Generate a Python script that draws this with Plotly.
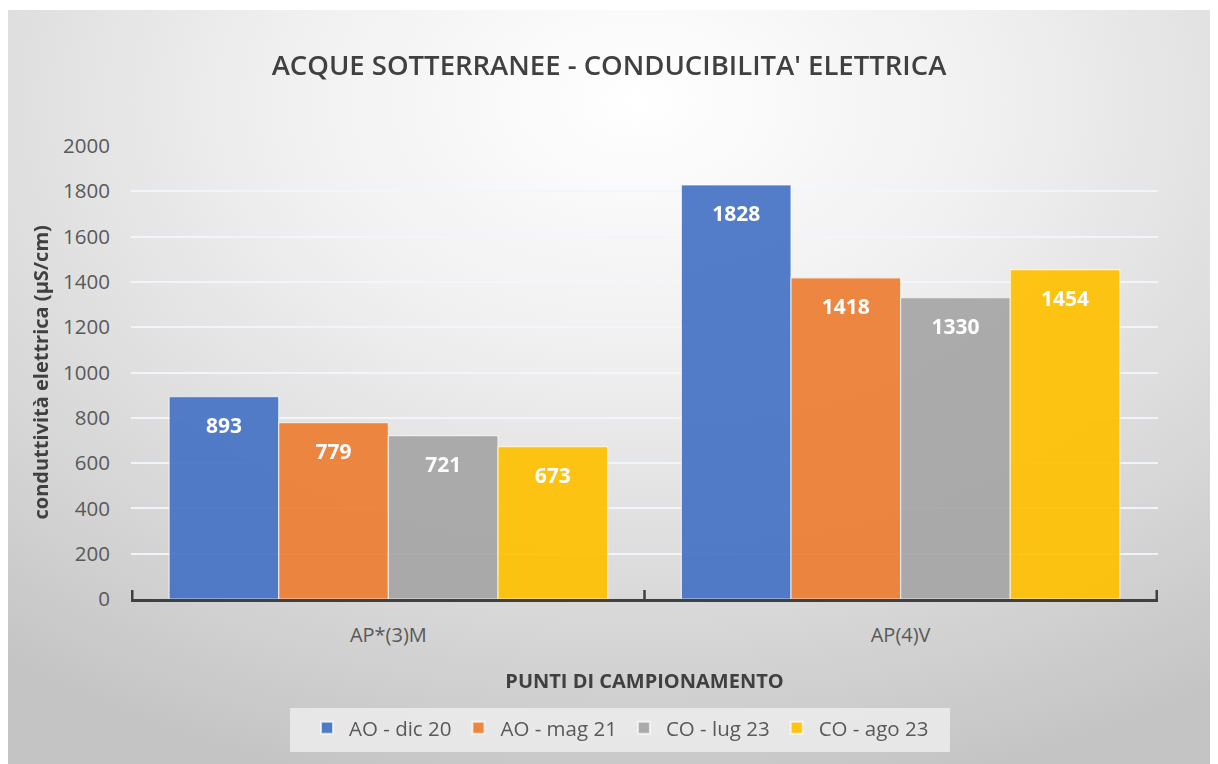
import plotly.graph_objects as go
import base64

categories = ["AP*(3)M", "AP(4)V"]
series_names = ["AO - dic 20", "AO - mag 21", "CO - lug 23", "CO - ago 23"]
values_dic20 = [893, 1828]
values_mag21 = [779, 1418]
values_lug23 = [721, 1330]
values_ago23 = [673, 1454]
y_ticks = [0, 200, 400, 600, 800, 1000, 1200, 1400, 1600, 1800, 2000]

series_values = [values_dic20, values_mag21, values_lug23, values_ago23]
colors = ["#4472C4", "#ED7D31", "#A5A5A5", "#FFC000"]

W, H = 1218, 764
OFF = 8  # page body margin
ML, MR, MT, MB = 123, 68, 138, 173
PW, PH = W - ML - MR, H - MT - MB


def px_x(p_page):
    return (p_page - OFF - ML) / PW


def px_y(p_page):
    return (H - MB - (p_page - OFF)) / PH


label_prefix = "<span style='font-size:6px;color:rgba(0,0,0,0)'>.</span><br>"

fig = go.Figure()
for name, vals, col in zip(series_names, series_values, colors):
    fig.add_trace(go.Bar(
        x=categories, y=vals, name=name,
        marker=dict(color=col, line=dict(color="rgba(255,255,255,0.7)", width=1.2)),
        opacity=0.92,
        text=[label_prefix + str(v) for v in vals],
        textposition="inside", insidetextanchor="end",
        textfont=dict(family="Open Sans", size=21, color="white", weight="bold"),
        textangle=0,
        cliponaxis=False,
    ))

svg = '''<svg xmlns="http://www.w3.org/2000/svg" width="1202" height="750" viewBox="0 0 1202 750" preserveAspectRatio="none">
<defs><radialGradient id="g" cx="0.52" cy="0.12" r="0.85" gradientTransform="translate(0.52,0.12) scale(1,1.1) translate(-0.52,-0.12)">
<stop offset="0" stop-color="#ffffff"/><stop offset="0.35" stop-color="#f0f0f0"/><stop offset="0.75" stop-color="#d6d6d6"/><stop offset="1" stop-color="#c4c4c4"/></radialGradient></defs>
<rect width="1202" height="750" fill="url(#g)"/></svg>'''
src = "data:image/svg+xml;base64," + base64.b64encode(svg.encode()).decode()

fig.add_layout_image(dict(
    source=src, xref="paper", yref="paper",
    x=px_x(8), y=px_y(10), sizex=1210 / PW, sizey=760 / PH,
    sizing="stretch", xanchor="left", yanchor="top", layer="below",
))

# legend background box
fig.add_shape(type="rect", xref="paper", yref="paper",
              x0=px_x(290), x1=px_x(950), y0=px_y(752), y1=px_y(708),
              fillcolor="rgba(236,236,236,0.85)", line=dict(width=0), layer="below")

# tick marks crossing the category axis at category boundaries
for i in range(len(categories) + 1):
    fig.add_shape(type="line", xref="x", yref="y", x0=i - 0.5, x1=i - 0.5,
                  ysizemode="pixel", yanchor=0, y0=-9, y1=9,
                  line=dict(color="#404040", width=2.5))

# y-axis title
fig.add_annotation(text="conduttività elettrica (µS/cm)", xref="paper", yref="paper",
                   x=px_x(40), y=0.5, xanchor="center", yanchor="middle",
                   textangle=-90, showarrow=False,
                   font=dict(family="Open Sans", size=20, color="#404040", weight="bold"))

font_family = "Open Sans"
fig.update_layout(
    width=W, height=H,
    margin=dict(l=ML, r=MR, t=MT, b=MB),
    paper_bgcolor="white", plot_bgcolor="rgba(0,0,0,0)",
    barmode="group", bargap=0.144, bargroupgap=0.0,
    title=dict(text="ACQUE SOTTERRANEE - CONDUCIBILITA' ELETTRICA",
               x=(609 - OFF) / W, xanchor="center", y=1 - (65 - OFF) / H, yanchor="middle",
               font=dict(family=font_family, size=27.5, color="#404040", weight=600)),
    font=dict(family=font_family, color="#595959"),
    xaxis=dict(
        type="category", showline=True, linecolor="#404040", linewidth=3,
        ticks="", ticklabelstandoff=16,
        tickfont=dict(size=20, color="#595959"), showgrid=False,
        title=dict(text="PUNTI DI CAMPIONAMENTO", standoff=27,
                   font=dict(size=20, color="#404040", weight="bold")),
    ),
    yaxis=dict(
        range=[0, 2000], tickvals=y_ticks, showline=False, zeroline=False,
        gridcolor="rgba(240,244,252,0.95)", gridwidth=2,
        tickfont=dict(size=20.5, color="#595959"), ticks="", ticklabelstandoff=20,
    ),
    legend=dict(orientation="h", x=px_x(305), xanchor="left", y=px_y(708), yanchor="top",
                bgcolor="rgba(0,0,0,0)", font=dict(size=20.5, color="#595959"),
                itemsizing="constant", itemwidth=34, traceorder="normal"),
    uniformtext=dict(minsize=10, mode="show"),
)

fig.write_html("out.html")
